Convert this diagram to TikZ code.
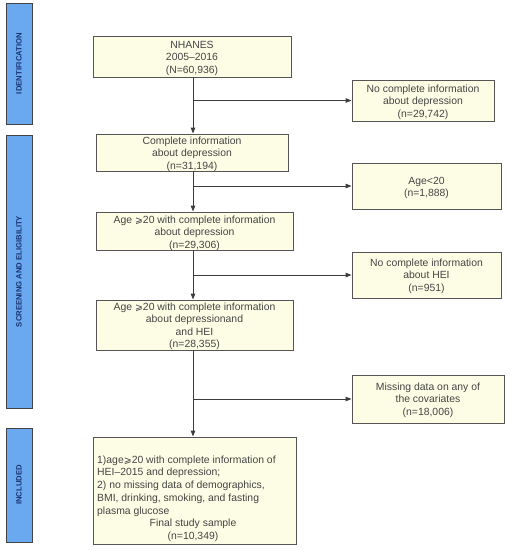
\documentclass[tikz,border=0pt]{standalone}
\usepackage{fontspec}
\setmainfont{Liberation Sans}
\newfontfamily\symfont{DejaVu Sans}
\newcommand{\geqs}{{\symfont\fontsize{9.5}{12.5}\selectfont ⩾}}
\usetikzlibrary{arrows.meta}
\definecolor{boxfill}{HTML}{FDFDE6}
\definecolor{boxline}{HTML}{555555}
\definecolor{txt}{HTML}{444444}
\definecolor{barfill}{HTML}{6AA8F0}
\definecolor{bartext}{HTML}{1A3470}
\tikzset{
  flow/.style={draw=boxline, line width=0.9pt, fill=boxfill, rectangle, inner sep=0pt},
  ftext/.style={text=txt, align=center, inner sep=0pt, font=\fontsize{10.4}{12.5}\selectfont},
  sidebar/.style={draw=boxline!80!black, line width=0.8pt, fill=barfill, rectangle, inner sep=0pt,
    minimum width=26pt},
  sidetext/.style={rotate=90, text=bartext, font=\fontsize{7.7}{9}\selectfont\bfseries},
  arr/.style={draw=boxline!70!black, line width=0.9pt, -{Triangle[length=6pt,width=4.5pt]}}
}
\begin{document}
\begin{tikzpicture}[x=1pt,y=-1pt]
\useasboundingbox (0,0) rectangle (510,550);
% side bars
\node[sidebar, minimum height=121pt] (s1) at (19,63.5) {};
\node[sidetext] (s1t) at (s1.center) {IDENTIFICATION};
\node[sidebar, minimum height=273pt] (s2) at (19,271.5) {};
\node[sidetext] (s2t) at (s2.center) {SCREENING AND ELIGIBILITY};
\node[sidebar, minimum height=114pt] (s3) at (19,485) {};
\node[sidetext] (s3t) at (s3.center) {INCLUDED};
% main boxes
\node[flow, minimum width=198pt, minimum height=41pt] (n1) at (192,56.5) {};
\node[ftext] (n1t) at ([yshift=-1.5pt]n1.center) {NHANES\\2005--2016\\(N=60,936)};
\node[flow, minimum width=192pt, minimum height=37pt] (n2) at (192,152.5) {};
\node[ftext] (n2t) at ([yshift=-1.5pt]n2.center) {Complete information\\about depression\\(n=31,194)};
\node[flow, minimum width=197pt, minimum height=38pt] (n3) at (194.5,231) {};
\node[ftext] (n3t) at ([yshift=-2pt]n3.center) {Age \geqs20 with complete information\\about depression\\(n=29,306)};
\node[flow, minimum width=197pt, minimum height=50pt] (n4) at (194.5,325) {};
\node[ftext] (n4t) at ([yshift=-1.5pt]n4.center) {Age \geqs20 with complete information\\about depressionand\\and HEI\\(n=28,355)};
\node[flow, minimum width=203pt, minimum height=107pt] (n5) at (194.5,490.5) {};
\node[ftext, font=\fontsize{10.4}{12.7}\selectfont, anchor=north west, align=left] (n5t) at (97,455.5)
  {1)age\geqs20 with complete information of\\HEI--2015 and depression;\\2) no missing data of demographics,\\BMI, drinking, smoking, and fasting\\plasma glucose};
\node[ftext, font=\fontsize{10.4}{12.7}\selectfont, anchor=north] (n5b) at (193,519)
  {Final study sample\\(n=10,349)};
% right boxes
\node[flow, minimum width=142pt, minimum height=41pt] (r1) at (423,100.5) {};
\node[ftext] (r1t) at ([yshift=-1.5pt]r1.center) {No complete information\\about depression\\(n=29,742)};
\node[flow, minimum width=149pt, minimum height=46pt] (r2) at (426.5,186) {};
\node[ftext] (r2t) at ([yshift=-2pt]r2.center) {Age<20\\(n=1,888)};
\node[flow, minimum width=149pt, minimum height=46pt] (r3) at (426.5,275) {};
\node[ftext] (r3t) at ([yshift=-1pt]r3.center) {No complete information\\about HEI\\(n=951)};
\node[flow, minimum width=152pt, minimum height=48pt] (r4) at (428,399) {};
\node[ftext] (r4t) at ([yshift=-1pt]r4.center) {Missing data on any of\\the covariates\\(n=18,006)};
% trunk
\coordinate (t) at (193,0);
\draw[arr] (n1.south -| t) -- (n2.north -| t);
\draw[arr] (n2.south -| t) -- (n3.north -| t);
\draw[arr] (n3.south -| t) -- (n4.north -| t);
\draw[arr] (n4.south -| t) -- (n5.north -| t);
% branches
\draw[arr] (r1.west -| t) -- (r1.west);
\draw[arr] (r2.west -| t) -- (r2.west);
\draw[arr] (r3.west -| t) -- (r3.west);
\draw[arr] (r4.west -| t) -- (r4.west);
\end{tikzpicture}
\end{document}
